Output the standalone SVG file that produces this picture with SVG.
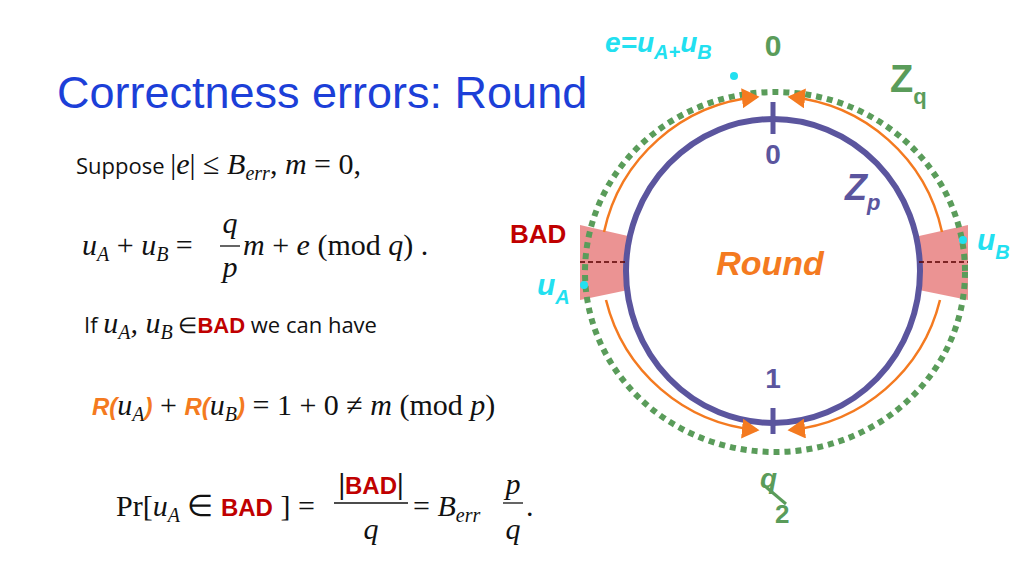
<svg xmlns="http://www.w3.org/2000/svg" width="1024" height="576" viewBox="0 0 1024 576">
<style>
.m{font-family:"Liberation Serif",serif;font-style:normal;font-size:30px;fill:#111}
.mi{font-family:"Liberation Serif",serif;font-style:italic;font-size:30px;fill:#111}
.c{font-family:"Open Sans","Liberation Sans",sans-serif;font-size:22px;fill:#111}
.bad{font-family:"Liberation Sans",sans-serif;font-weight:bold;font-style:normal;fill:#c00000}
.h{font-family:"Liberation Sans",Arial,sans-serif;font-weight:bold}
.orange{fill:#f47a20}
.cy{fill:#22e0f0}
.gr{fill:#5a9c5a}
.pu{fill:#5b559e}
</style>
<defs>
<marker id="ar" markerWidth="8" markerHeight="8" refX="6" refY="4" orient="auto" markerUnits="strokeWidth"><path d="M0,0 L7,4 L0,8 z" fill="#f47a20"/></marker>
</defs>
<rect width="1024" height="576" fill="#fff"/>
<text x="57" y="108" font-family="'Liberation Sans',Arial,sans-serif" font-size="45" fill="#1c3fd8">Correctness errors: Round</text>
<g id="text-left">
<text x="76" y="174" class="c">Suppose <tspan class="m">|</tspan><tspan class="mi">e</tspan><tspan class="m">| ≤ </tspan><tspan class="mi">B<tspan font-size="20" dy="6">err</tspan></tspan><tspan class="m" dy="-6">,  </tspan><tspan class="mi">m</tspan><tspan class="m"> = 0,</tspan></text>
<text x="82" y="255" class="mi">u<tspan font-size="20" dy="6">A</tspan><tspan class="m" dy="-6"> + </tspan>u<tspan font-size="20" dy="6">B</tspan><tspan class="m" dy="-6"> = </tspan></text>
<text x="230" y="233" class="mi" text-anchor="middle">q</text>
<line x1="220" y1="246" x2="240" y2="246" stroke="#111" stroke-width="1.3"/>
<text x="230" y="277" class="mi" text-anchor="middle">p</text>
<text x="243" y="255" class="mi">m<tspan class="m"> + </tspan>e<tspan class="m">  (mod </tspan>q<tspan class="m">) .</tspan></text>
<text x="84" y="333" class="c">If <tspan class="mi">u<tspan font-size="20" dy="6">A</tspan><tspan dy="-6">, u</tspan><tspan font-size="20" dy="6">B</tspan></tspan><tspan dy="-6"> ∈</tspan><tspan class="bad">BAD</tspan> we can have</text>
<text x="92" y="415" class="mi"><tspan class="h orange" font-size="24">R(</tspan>u<tspan font-size="20" dy="6">A</tspan><tspan class="h orange" font-size="24" dy="-6">)</tspan><tspan class="m"> + </tspan><tspan class="h orange" font-size="24">R(</tspan>u<tspan font-size="20" dy="6">B</tspan><tspan class="h orange" font-size="24" dy="-6">)</tspan><tspan class="m"> = 1 + 0 ≠ </tspan>m<tspan class="m">  (mod </tspan>p<tspan class="m">)</tspan></text>
<text x="116" y="516" class="m">Pr[<tspan class="mi">u<tspan font-size="20" dy="6">A</tspan></tspan><tspan dy="-6"> ∈ </tspan><tspan class="bad" font-size="24">BAD</tspan>  ] =</text>
<text x="371" y="494" class="bad" font-size="24" text-anchor="middle"><tspan class="m" font-size="30">|</tspan>BAD<tspan class="m" font-size="30">|</tspan></text>
<line x1="334" y1="503" x2="408" y2="503" stroke="#111" stroke-width="1.3"/>
<text x="371" y="539" class="mi" text-anchor="middle">q</text>
<text x="413" y="516" class="m">= <tspan class="mi">B<tspan font-size="20" dy="6">err</tspan></tspan></text>
<text x="513" y="494" class="mi" text-anchor="middle">p</text>
<line x1="503" y1="503" x2="523" y2="503" stroke="#111" stroke-width="1.3"/>
<text x="513" y="539" class="mi" text-anchor="middle">q</text>
<text x="526" y="516" class="m">.</text>
</g>
<g id="bad-regions">
<path d="M580,225 L628,236 L628,290 L580,300 z" fill="#e88080" opacity="0.85"/>
<path d="M968,225 L919,236 L919,290 L968,300 z" fill="#e88080" opacity="0.85"/>
</g>
<g id="circles">
<ellipse id="zq" cx="775" cy="272" rx="190" ry="180" fill="none" stroke="#5a9c5a" stroke-width="6" stroke-dasharray="6 5"/>
<ellipse id="zp" cx="773" cy="271" rx="147" ry="152" fill="none" stroke="#5b559e" stroke-width="6"/>
<line x1="773" y1="102" x2="773" y2="134" stroke="#5b559e" stroke-width="5"/>
<line x1="773" y1="408" x2="773" y2="434" stroke="#5b559e" stroke-width="5"/>
</g>
<g id="connectors" fill="none" stroke="#f47a20" stroke-width="2.5">
<path d="M604,232 A172,172 0 0,1 757,97" marker-end="url(#ar)"/>
<path d="M942,232 A172,172 0 0,0 790,97" marker-end="url(#ar)"/>
<path d="M606,300 A172,172 0 0,0 757,430" marker-end="url(#ar)"/>
<path d="M940,300 A172,172 0 0,1 790,430" marker-end="url(#ar)"/>
</g>
<g id="dash">
<line x1="580" y1="262" x2="628" y2="262" stroke="#5a0000" stroke-width="1.5" stroke-dasharray="5 3"/>
<line x1="919" y1="262" x2="968" y2="262" stroke="#5a0000" stroke-width="1.5" stroke-dasharray="5 3"/>
</g>
<g id="labels" class="h">
<text x="605" y="52" font-size="28" font-style="italic" class="cy">e=u<tspan font-size="20" dy="7">A+</tspan><tspan dy="-7">u</tspan><tspan font-size="20" dy="7">B</tspan></text>
<text x="773" y="56" font-size="30" text-anchor="middle" class="gr">0</text>
<text x="890" y="92" font-size="38" class="gr">Z<tspan font-size="22" dy="12">q</tspan></text>
<text x="773" y="164" font-size="28" text-anchor="middle" class="pu">0</text>
<text x="845" y="200" font-size="36" font-style="italic" class="pu">Z<tspan font-size="22" dy="10">p</tspan></text>
<text x="510" y="243" font-size="26" fill="#c00000">BAD</text>
<text x="537" y="295" font-size="30" font-style="italic" class="cy">u<tspan font-size="20" dy="9">A</tspan></text>
<text x="977" y="250" font-size="30" font-style="italic" class="cy">u<tspan font-size="20" dy="9">B</tspan></text>
<text x="770" y="275" font-size="34" font-style="italic" text-anchor="middle" class="orange">Round</text>
<text x="773" y="388" font-size="28" text-anchor="middle" class="pu">1</text>
<text x="760" y="488" font-size="28" font-style="italic" class="gr">q</text>
<line x1="766" y1="487" x2="786" y2="504" stroke="#5a9c5a" stroke-width="3"/>
<text x="775" y="523" font-size="26" class="gr">2</text>
</g>
<g id="dots" class="cy">
<circle cx="734" cy="76" r="4"/>
<circle cx="584" cy="285" r="4"/>
<circle cx="963" cy="240" r="4"/>
</g>
</svg>
